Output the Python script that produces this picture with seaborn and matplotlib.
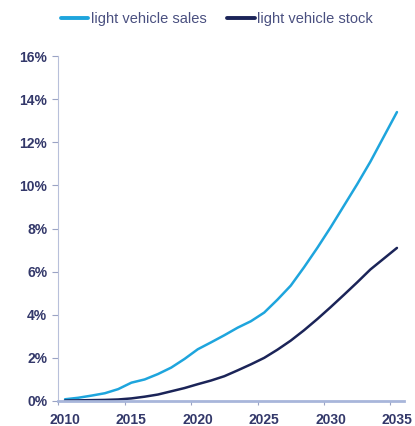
import numpy as np
import pandas as pd
import matplotlib
matplotlib.use("Agg")
import matplotlib.pyplot as plt
import seaborn as sns
from matplotlib.ticker import FixedLocator, FuncFormatter
from matplotlib.lines import Line2D

years = list(range(2010, 2036))
sales = [0.08, 0.15, 0.25, 0.36, 0.55, 0.85, 1.0, 1.25, 1.55, 1.95, 2.4, 2.72, 3.05,
         3.4, 3.7, 4.1, 4.7, 5.35, 6.2, 7.1, 8.05, 9.05, 10.05, 11.1, 12.25, 13.4]
stock = [0.02, 0.03, 0.04, 0.05, 0.07, 0.12, 0.2, 0.3, 0.45, 0.6, 0.78, 0.95, 1.15,
         1.42, 1.7, 2.0, 2.38, 2.8, 3.28, 3.8, 4.35, 4.92, 5.5, 6.1, 6.6, 7.1]
series_names = ["light vehicle sales", "light vehicle stock"]
x_tick_labels = [2010, 2015, 2020, 2025, 2030, 2035]
y_ticks = [0, 2, 4, 6, 8, 10, 12, 14, 16]

df = pd.DataFrame({
    "year": years * 2,
    "value": sales + stock,
    "series": [series_names[0]] * len(years) + [series_names[1]] * len(years),
})

sns.set_theme(style="white")
plt.rcParams["font.family"] = ["Liberation Sans", "DejaVu Sans"]

fig = plt.figure(figsize=(4.15, 4.26), dpi=100)
ax = fig.add_axes([0.1407, 0.0587, 0.8318, 0.8098])

palette = {series_names[0]: "#1ea5dd", series_names[1]: "#1b2458"}
sns.lineplot(data=df, x="year", y="value", hue="series", palette=palette,
             linewidth=1.8, ax=ax, legend=False)

ax.set_xlim(2009.5, 2035.5)
ax.set_ylim(0, 16)
ax.set_xlabel("")
ax.set_ylabel("")

text_color = "#33386a"
ax.set_yticks(y_ticks)
ax.yaxis.set_major_formatter(FuncFormatter(lambda v, p: f"{int(v)}%"))
ax.set_xticks(x_tick_labels)
ax.set_xticklabels([str(t) for t in x_tick_labels])
ax.xaxis.set_minor_locator(FixedLocator([t - 0.5 for t in x_tick_labels]))

ax.tick_params(axis="y", which="major", left=True, length=4, width=0.8,
               color="#9aa3c4", labelsize=10, labelcolor=text_color, pad=4)
ax.tick_params(axis="x", which="major", bottom=False, labelsize=10,
               labelcolor=text_color, pad=2.5)
ax.tick_params(axis="x", which="minor", bottom=True, length=3, width=0.8,
               color="#9aa3c4")
for lab in ax.get_xticklabels() + ax.get_yticklabels():
    lab.set_fontweight("bold")

for s in ["top", "right"]:
    ax.spines[s].set_visible(False)
ax.spines["left"].set_color("#b8c0da")
ax.spines["left"].set_linewidth(0.8)
ax.spines["bottom"].set_color("#a8b6da")
ax.spines["bottom"].set_linewidth(2.0)
ax.grid(False)

handles = [Line2D([0], [0], color=palette[n], lw=2.8) for n in series_names]
leg = fig.legend(handles, series_names, loc="center", bbox_to_anchor=(0.522, 0.955),
                 ncol=2, frameon=False, fontsize=10.5, handlelength=1.9,
                 handletextpad=0.15, columnspacing=1.4)
for t in leg.get_texts():
    t.set_color("#4a5080")

fig.savefig("out.png", dpi=100, facecolor="white")
